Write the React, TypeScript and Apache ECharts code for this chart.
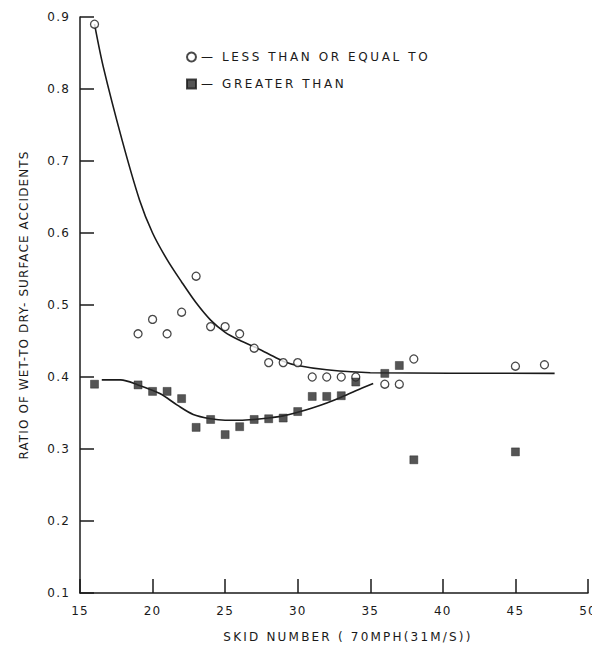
import React, { useEffect, useRef } from "react";
import * as echarts from "echarts";

// Scatter: less than or equal to (open circles)
const leX = [16, 19, 20, 21, 22, 23, 24, 25, 26, 27, 28, 29, 30, 31, 32, 33, 34, 36, 37, 38, 45, 47];
const leY = [0.89, 0.46, 0.48, 0.46, 0.49, 0.54, 0.47, 0.47, 0.46, 0.44, 0.42, 0.42, 0.42, 0.40, 0.40, 0.40, 0.40, 0.39, 0.39, 0.425, 0.415, 0.417];

// Scatter: greater than (filled squares)
const gtX = [16, 19, 20, 21, 22, 23, 24, 25, 26, 27, 28, 29, 30, 31, 32, 33, 34, 36, 37, 38, 45];
const gtY = [0.39, 0.389, 0.38, 0.38, 0.37, 0.33, 0.341, 0.32, 0.331, 0.341, 0.342, 0.343, 0.352, 0.373, 0.373, 0.374, 0.393, 0.405, 0.416, 0.285, 0.296];

// Fitted curves
const leCurveX = [16, 16.6, 17.9, 19.1, 20, 21, 22, 23, 24, 25, 26, 27, 28, 29, 30, 32, 35, 47.7];
const leCurveY = [0.89, 0.831, 0.729, 0.646, 0.6, 0.563, 0.532, 0.503, 0.479, 0.462, 0.451, 0.442, 0.432, 0.422, 0.416, 0.41, 0.406, 0.405];
const gtCurveX = [16.5, 17.8, 19, 20.5, 21.7, 22.8, 24, 25, 26, 27, 28, 29, 30, 31, 32, 33, 34, 35.2];
const gtCurveY = [0.396, 0.396, 0.389, 0.377, 0.361, 0.348, 0.342, 0.34, 0.34, 0.341, 0.343, 0.346, 0.351, 0.357, 0.364, 0.372, 0.381, 0.391];

const xTicks = [15, 20, 25, 30, 35, 40, 45, 50];
const yTicks = [0.1, 0.2, 0.3, 0.4, 0.5, 0.6, 0.7, 0.8, 0.9];

const LE_NAME = "LESS THAN OR EQUAL TO";
const GT_NAME = "GREATER THAN";
const X_TITLE = "SKID NUMBER ( 70MPH(31M/S))";
const Y_TITLE = "RATIO OF WET-TO DRY- SURFACE ACCIDENTS";

const INK = "#1a1a1a";
const FONT = "DejaVu Sans";

const zip = (a: number[], b: number[]) => a.map((v, i) => [v, b[i]]);

export default function App() {
  const ref = useRef<HTMLDivElement>(null);
  useEffect(() => {
    if (!ref.current) return;
    const el = ref.current;
    const chart = echarts.init(el, null, { renderer: "svg" });
    const spacing = () => {
      el.querySelectorAll("text").forEach((t) => {
        const s = t.textContent || "";
        let ls = 0;
        if (s.includes("SKID")) ls = 2.2;
        else if (s.includes("RATIO")) ls = 1.1;
        else if (s.includes("LESS") || s.includes("GREATER")) ls = 2.6;
        else if (/^[0-9.]+$/.test(s)) ls = 1.2;
        if (ls) t.setAttribute("letter-spacing", String(ls));
      });
    };
    chart.on("finished", spacing);
    chart.setOption({
      animation: false,
      backgroundColor: "#ffffff",
      grid: { left: 80, right: 12, top: 17, bottom: 61, containLabel: false },
      legend: {
        left: 181,
        top: 46,
        orient: "vertical",
        itemGap: 15,
        itemWidth: 9,
        itemHeight: 9,
        selectedMode: false,
        data: [
          { name: LE_NAME, icon: "circle" },
          { name: GT_NAME, icon: "rect" },
        ],
        formatter: (n: string) => "\u2014 " + n,
        textStyle: { fontFamily: FONT, fontSize: 12, color: INK },
      },
      xAxis: {
        type: "value",
        min: 15,
        max: 50,
        interval: 5,
        name: X_TITLE,
        nameLocation: "middle",
        nameGap: 38,
        nameTextStyle: { fontFamily: FONT, fontSize: 12, color: INK, padding: [0, 0, 0, 28] },
        axisLine: { show: true, onZero: false, lineStyle: { color: INK, width: 1.5 } },
        axisTick: { show: true, inside: true, length: 14, lineStyle: { color: INK, width: 1.5 } },
        axisLabel: {
          margin: 12,
          fontFamily: FONT,
          fontSize: 12,
          color: INK,
          formatter: (v: number) => (xTicks.includes(v) ? String(v) : ""),
        },
        splitLine: { show: false },
      },
      yAxis: {
        type: "value",
        min: 0.1,
        max: 0.9,
        interval: 0.1,
        name: Y_TITLE,
        nameLocation: "middle",
        nameRotate: 90,
        nameGap: 50,
        nameTextStyle: { fontFamily: FONT, fontSize: 12, color: INK },
        axisLine: { show: true, onZero: false, lineStyle: { color: INK, width: 1.5 } },
        axisTick: { show: true, inside: true, length: 14, lineStyle: { color: INK, width: 1.5 } },
        axisLabel: {
          margin: 10,
          fontFamily: FONT,
          fontSize: 12,
          color: INK,
          formatter: (v: number) => {
            const r = Math.round(v * 10) / 10;
            return yTicks.includes(r) ? r.toFixed(1) : "";
          },
        },
        splitLine: { show: false },
      },
      series: [
        {
          name: "le-curve",
          type: "line",
          data: zip(leCurveX, leCurveY),
          showSymbol: false,
          smooth: 0.3,
          lineStyle: { color: INK, width: 1.6 },
          z: 2,
        },
        {
          name: "gt-curve",
          type: "line",
          data: zip(gtCurveX, gtCurveY),
          showSymbol: false,
          smooth: 0.3,
          lineStyle: { color: INK, width: 1.6 },
          z: 2,
        },
        {
          name: LE_NAME,
          type: "scatter",
          data: zip(leX, leY),
          symbol: "circle",
          symbolSize: 8,
          itemStyle: { color: "#ffffff", borderColor: INK, borderWidth: 1.3 },
          z: 3,
        },
        {
          name: GT_NAME,
          type: "scatter",
          data: zip(gtX, gtY),
          symbol: "rect",
          symbolSize: 8,
          itemStyle: { color: "#2b2b2b", borderColor: INK, borderWidth: 0.5 },
          z: 3,
        },
      ],
    });
    spacing();
    return () => {
      chart.dispose();
    };
  }, []);
  return <div ref={ref} style={{ width: 600, height: 654, marginLeft: -8, marginTop: -8 }} />;
}
